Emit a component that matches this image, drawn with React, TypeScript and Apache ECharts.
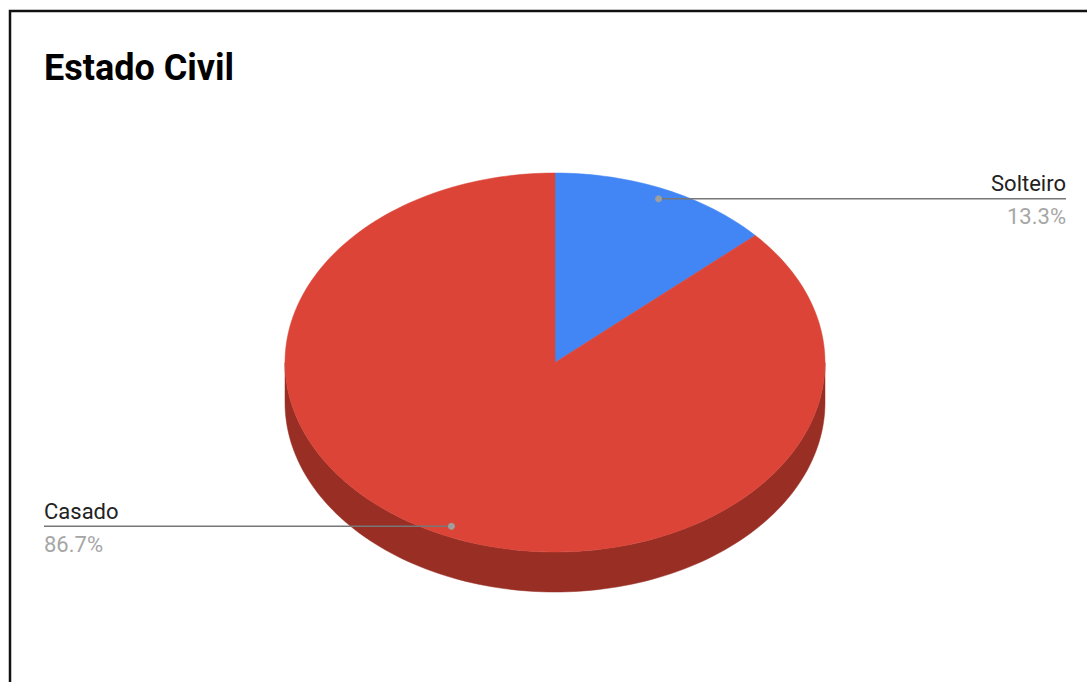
import React, { useEffect, useRef } from "react";
import * as echarts from "echarts";

const title = "Estado Civil";
const categories = ["Solteiro", "Casado"];
const values = [13.3, 86.7];
const topColors = ["#4285F4", "#DB4437"];
const sideColors = ["#2B5DAE", "#992E25"];

export default function App() {
  const ref = useRef<HTMLDivElement>(null);
  useEffect(() => {
    document.body.style.margin = "0";
    const chart = echarts.init(ref.current!, null, { renderer: "svg" });
    const cx = 555, cy = 362.5, rx = 270, ry = 189.5, depth = 40;
    const total = values.reduce((a, b) => a + b, 0);
    const pt = (t: number, k = 1, dy = 0) => [cx + k * rx * Math.sin(t), cy - k * ry * Math.cos(t) + dy];
    const arc = (a: number, b: number, dy = 0) => {
      const n = Math.max(4, Math.ceil(((b - a) / (2 * Math.PI)) * 240));
      const pts: number[][] = [];
      for (let i = 0; i <= n; i++) pts.push(pt(a + ((b - a) * i) / n, 1, dy));
      return pts;
    };
    const option: any = {
      animation: false,
      backgroundColor: "#ffffff",
      title: {
        text: title,
        left: 44,
        top: 50,
        padding: 0,
        textStyle: { fontFamily: "Roboto", fontSize: 36, fontWeight: "bold", color: "#000000" },
      },
      graphic: [
        {
          type: "polyline",
          silent: true,
          shape: { points: [[10, 700], [10, 11], [1100, 11]] },
          style: { stroke: "#111111", lineWidth: 2.5, fill: null },
        },
      ],
      series: [
        {
          type: "custom",
          coordinateSystem: "none",
          data: values.map((v, i) => ({ value: v, name: categories[i] })),
          renderItem: (params: any, api: any) => {
            const i = params.dataIndex;
            const v = api.value(0);
            let before = 0;
            for (let j = 0; j < i; j++) before += values[j];
            const t0 = (before / total) * 2 * Math.PI;
            const t1 = ((before + v) / total) * 2 * Math.PI;
            const children: any[] = [];
            const a = Math.max(t0, Math.PI / 2);
            const b = Math.min(t1, (3 * Math.PI) / 2);
            if (b > a) {
              const topArc = arc(a, b, 0);
              const botArc = arc(a, b, depth).reverse();
              children.push({
                type: "polygon",
                z2: 1,
                shape: { points: topArc.concat(botArc) },
                style: { fill: sideColors[i], stroke: sideColors[i], lineWidth: 0.5 },
              });
            }
            children.push({
              type: "polygon",
              z2: 2,
              shape: { points: [[cx, cy]].concat(arc(t0, t1, 0)) },
              style: { fill: topColors[i], stroke: topColors[i], lineWidth: 0.5 },
            });
            const tm = (t0 + t1) / 2;
            const d = pt(tm, 0.945);
            const right = Math.sin(tm) >= 0;
            const ex = right ? 1066 : 44;
            const ly = d[1];
            children.push({
              type: "line",
              z2: 3,
              shape: { x1: d[0], y1: ly, x2: ex, y2: ly },
              style: { stroke: "#777777", lineWidth: 1.5 },
            });
            children.push({
              type: "circle",
              z2: 4,
              shape: { cx: d[0], cy: ly, r: 3.5 },
              style: { fill: "#9E9E9E" },
            });
            children.push({
              type: "text",
              z2: 4,
              style: {
                text: categories[i],
                x: ex,
                y: ly - 4,
                align: right ? "right" : "left",
                verticalAlign: "bottom",
                fontFamily: "Roboto",
                fontSize: 22,
                fill: "#222222",
              },
            });
            children.push({
              type: "text",
              z2: 4,
              style: {
                text: ((v / total) * 100).toFixed(1) + "%",
                x: ex,
                y: ly + 7,
                align: right ? "right" : "left",
                verticalAlign: "top",
                fontFamily: "Roboto",
                fontSize: 22,
                fill: "#A6A6A6",
              },
            });
            return { type: "group", children };
          },
        },
      ],
    };
    chart.setOption(option);
    return () => chart.dispose();
  }, []);
  return <div ref={ref} style={{ width: 1087, height: 682 }} />;
}
